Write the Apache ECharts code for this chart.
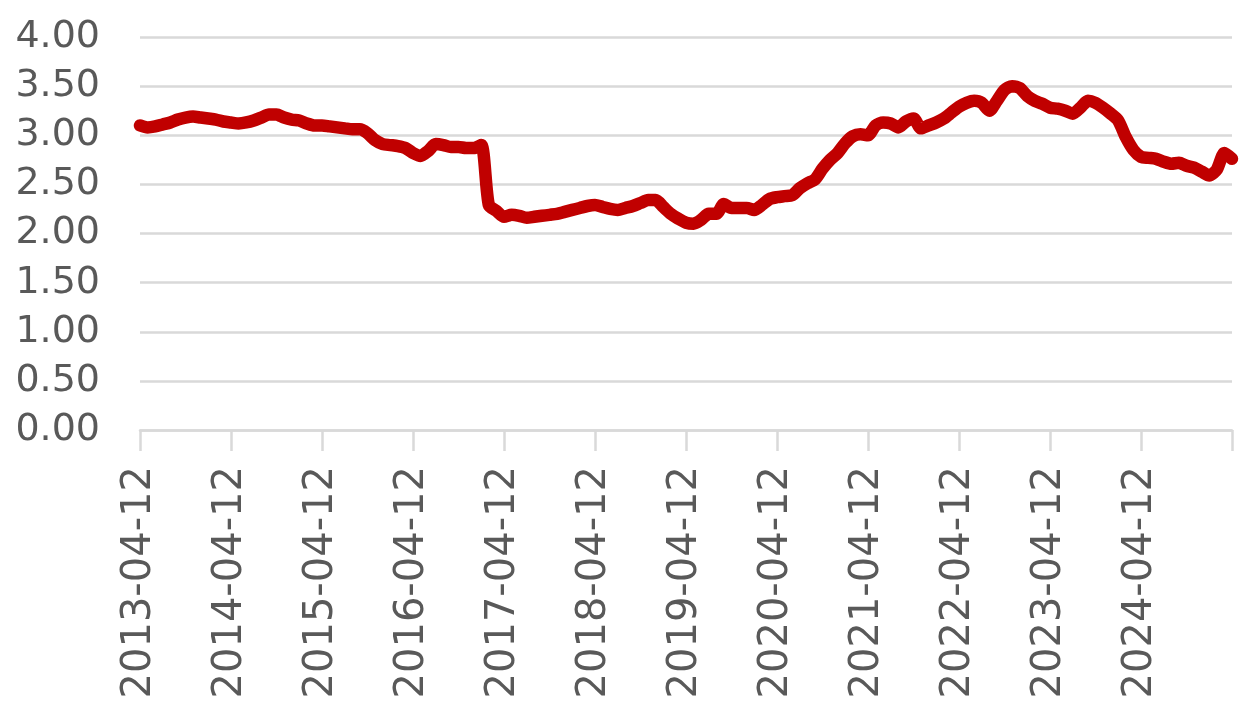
<!DOCTYPE html>
<html>
<head>
<meta charset="utf-8">
<script src="https://cdn.jsdelivr.net/npm/echarts@6/dist/echarts.min.js"></script>
<style>
  html, body { margin: 0; padding: 0; background: #ffffff; }
  #view { width: 1245px; height: 717px; }
</style>
</head>
<body>
<div id="view"></div>
<script>
// monthly points, first one is 2013-04-12
let startYear = 2013;
let startMonth = 4;
let dayOfMonth = 12;

let values = [
  3.10, 3.08, 3.09, 3.11, 3.13, 3.16, 3.18, 3.19, 3.18, 3.17, 3.16, 3.14,
  3.13, 3.12, 3.13, 3.15, 3.18, 3.21, 3.21, 3.18, 3.16, 3.15, 3.12, 3.10,
  3.10, 3.09, 3.08, 3.07, 3.06, 3.06, 3.02, 2.95, 2.91, 2.90, 2.89, 2.87,
  2.82, 2.79, 2.84, 2.91, 2.90, 2.88, 2.88, 2.87, 2.87, 2.90, 2.29, 2.23,
  2.17, 2.19, 2.18, 2.16, 2.17, 2.18, 2.19, 2.20, 2.22, 2.24, 2.26, 2.28,
  2.29, 2.27, 2.25, 2.24, 2.26, 2.28, 2.31, 2.34, 2.34, 2.27, 2.20, 2.15,
  2.11, 2.10, 2.14, 2.20, 2.20, 2.30, 2.26, 2.26, 2.26, 2.24, 2.29, 2.35,
  2.37, 2.38, 2.39, 2.46, 2.51, 2.55, 2.66, 2.75, 2.82, 2.92, 2.99, 3.01,
  3.00, 3.10, 3.13, 3.12, 3.08, 3.14, 3.17, 3.07, 3.10, 3.13, 3.17, 3.23,
  3.29, 3.33, 3.35, 3.33, 3.25, 3.35, 3.46, 3.50, 3.48, 3.40, 3.35, 3.32,
  3.28, 3.27, 3.25, 3.22, 3.28, 3.35, 3.33, 3.28, 3.22, 3.15, 2.98, 2.85,
  2.78, 2.77, 2.76, 2.73, 2.71, 2.72, 2.69, 2.67, 2.63, 2.59, 2.65, 2.82,
  2.76
];

let yMin = 0;
let yMax = 4;
let yStep = 0.5;

let categories = [];
for (let i = 0; i < values.length; i++) {
  let m = startMonth - 1 + i;
  let y = startYear + Math.floor(m / 12);
  let mm = (m % 12) + 1;
  categories.push(y + "-" + String(mm).padStart(2, "0") + "-" + String(dayOfMonth).padStart(2, "0"));
}

let myChart = echarts.init(document.getElementById("view"));

let option = {
  backgroundColor: "#ffffff",
  animation: false,
  grid: {
    left: 140,
    right: 13,
    top: 37,
    bottom: 287,
  },
  xAxis: {
    type: "category",
    boundaryGap: false,
    data: categories,
    axisLine: {
      lineStyle: { color: "#d9d9d9", width: 2.5 },
    },
    axisTick: {
      show: true,
      length: 21,
      interval: (i) => i % 12 === 0,
      lineStyle: { color: "#d9d9d9", width: 2.5 },
    },
    axisLabel: {
      rotate: 90,
      interval: (i) => i % 12 === 0 && i < values.length - 1,
      margin: 36,
      color: "#595959",
      fontFamily: "DejaVu Sans",
      fontSize: 40,
    },
    splitLine: { show: false },
  },
  yAxis: {
    type: "value",
    min: yMin,
    max: yMax,
    interval: yStep,
    axisLine: { show: false },
    axisTick: { show: false },
    axisLabel: {
      margin: 40,
      color: "#595959",
      fontFamily: "DejaVu Sans",
      fontSize: 38,
      formatter: (v) => v.toFixed(2),
    },
    splitLine: {
      lineStyle: { color: "#d9d9d9", width: 2.5 },
    },
  },
  series: [
    {
      type: "line",
      data: values,
      smooth: 0.25,
      symbol: "none",
      lineStyle: {
        color: "#c00000",
        width: 12.5,
        join: "round",
        cap: "round",
      },
    },
  ],
};
myChart.setOption(option);
</script>
</body>
</html>
